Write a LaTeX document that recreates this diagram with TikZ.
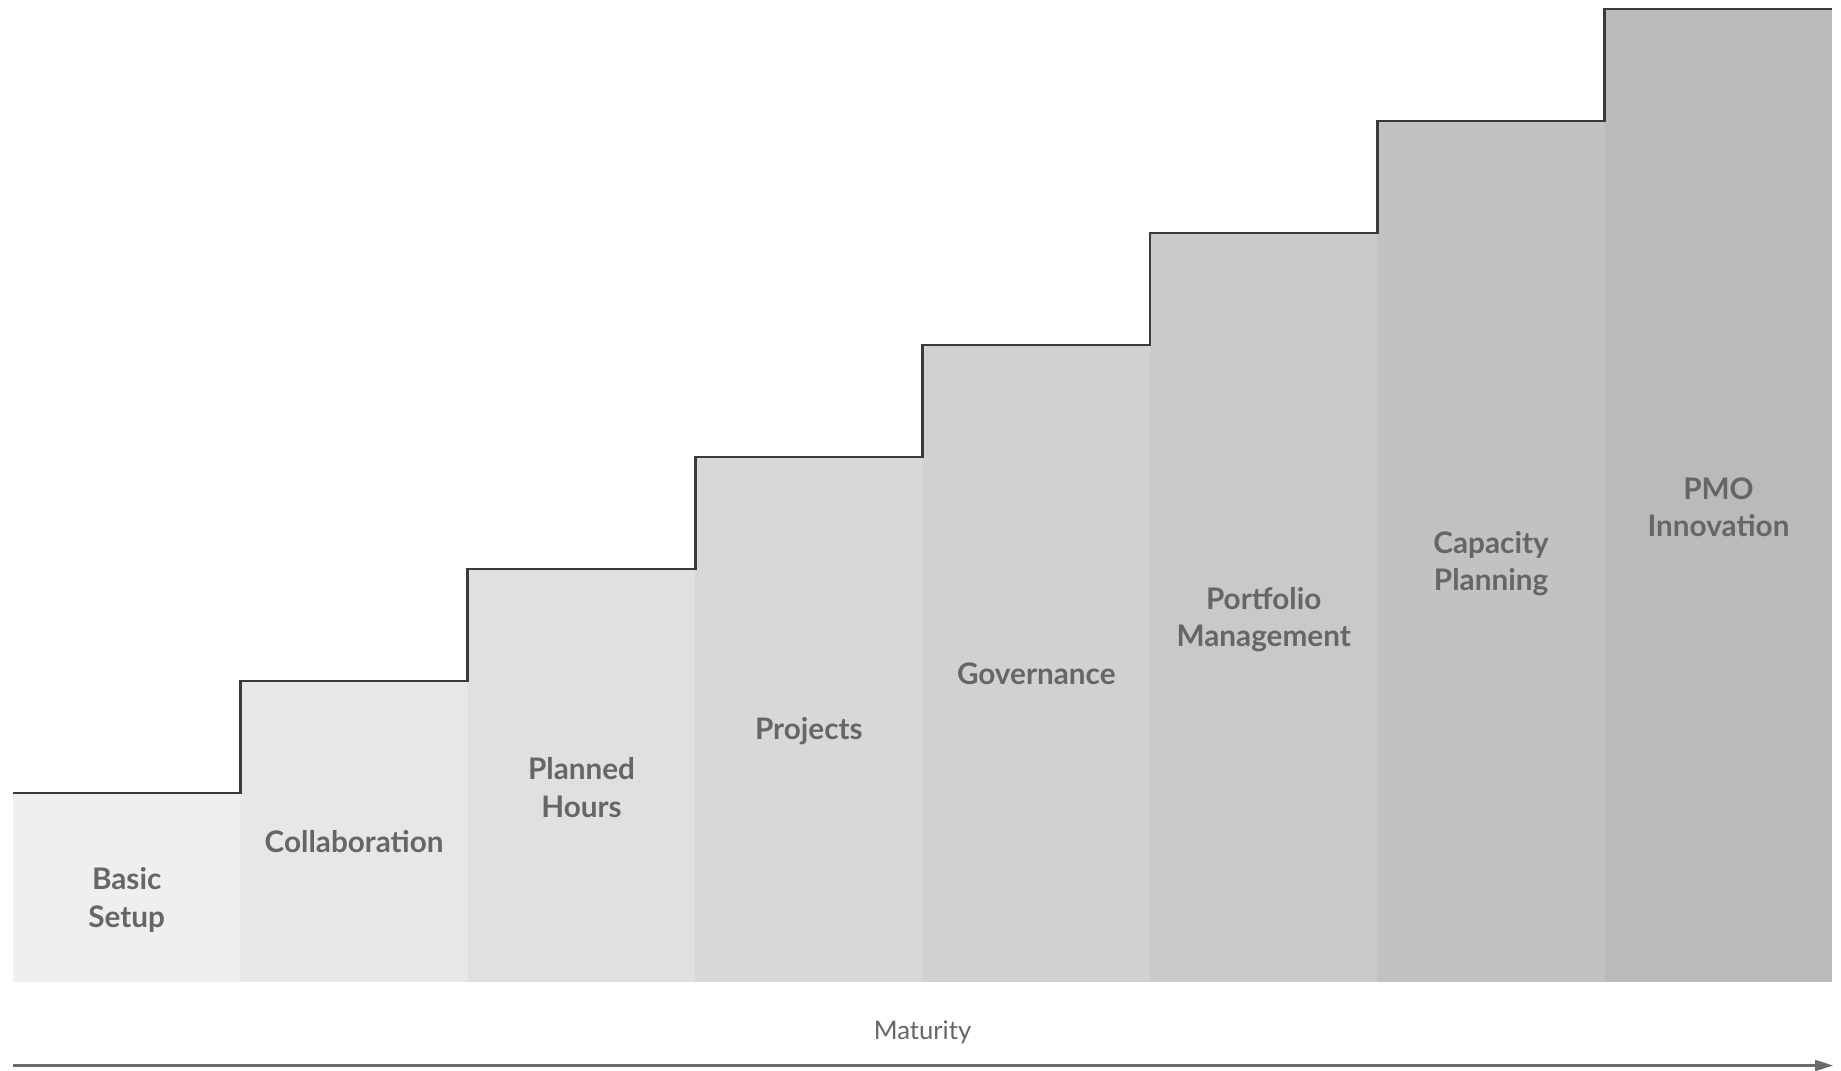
\documentclass[tikz,border=0pt]{standalone}
\usepackage{fontspec}
\setmainfont{Lato}
\usetikzlibrary{arrows.meta}

\definecolor{stepA}{HTML}{EFEFEF}
\definecolor{stepB}{HTML}{E7E7E7}
\definecolor{stepC}{HTML}{E0E0E0}
\definecolor{stepD}{HTML}{D8D8D8}
\definecolor{stepE}{HTML}{D1D1D1}
\definecolor{stepF}{HTML}{C9C9C9}
\definecolor{stepG}{HTML}{C2C2C2}
\definecolor{stepH}{HTML}{BABABA}
\definecolor{labelgray}{HTML}{666666}
\definecolor{edgegray}{HTML}{3A3A3A}
\definecolor{axisgray}{HTML}{6B6B6B}

\begin{document}
\begin{tikzpicture}[
    stage/.style={font=\bfseries\fontsize{8.45}{10.6}\selectfont, text=labelgray, align=center},
    axis/.style={draw=axisgray, line width=0.6pt, -{Triangle[length=0.18cm, width=0.11cm]}},
]
    \useasboundingbox (0,0) rectangle (18.41,10.70);

    % Bars, one per level
    \fill[stepA] (0.130,0.88) rectangle (2.404,2.77);
    \fill[stepB] (2.404,0.88) rectangle (4.678,3.89);
    \fill[stepC] (4.678,0.88) rectangle (6.952,5.01);
    \fill[stepD] (6.952,0.88) rectangle (9.226,6.13);
    \fill[stepE] (9.226,0.88) rectangle (11.500,7.25);
    \fill[stepF] (11.500,0.88) rectangle (13.774,8.37);
    \fill[stepG] (13.774,0.88) rectangle (16.048,9.49);
    \fill[stepH] (16.048,0.88) rectangle (18.322,10.61);

    % Staircase outline
    \draw[edgegray, line width=0.8pt] (0.130,2.77) -| (2.404,3.89) -| (4.678,5.01) -| (6.952,6.13)
        -| (9.226,7.25) -| (11.500,8.37) -| (13.774,9.49) -| (16.048,10.61) -- (18.322,10.61);

    % Level names
    \node[stage] (basic) at (1.267,1.70) {Basic\\Setup};
    \node[stage] (collab) at (3.541,2.28) {Collaboration};
    \node[stage] (hours) at (5.815,2.825) {Planned\\Hours};
    \node[stage] (projects) at (8.089,3.39) {Projects};
    \node[stage] (gov) at (10.363,3.96) {Governance};
    \node[stage] (portfolio) at (12.637,4.50) {Portfolio\\Management};
    \node[stage] (capacity) at (14.911,5.06) {Capacity\\Planning};
    \node[stage] (pmo) at (17.185,5.625) {PMO\\Innovation};

    % Maturity axis
    \coordinate (axisstart) at (0.13,0.045);
    \coordinate (axisend) at (18.33,0.045);
    \draw[axis] (axisstart) -- (axisend);
    \node[text=labelgray, font=\fontsize{7.3}{8.5}\selectfont] (maturity) at (9.225,0.38) {Maturity};
\end{tikzpicture}
\end{document}
